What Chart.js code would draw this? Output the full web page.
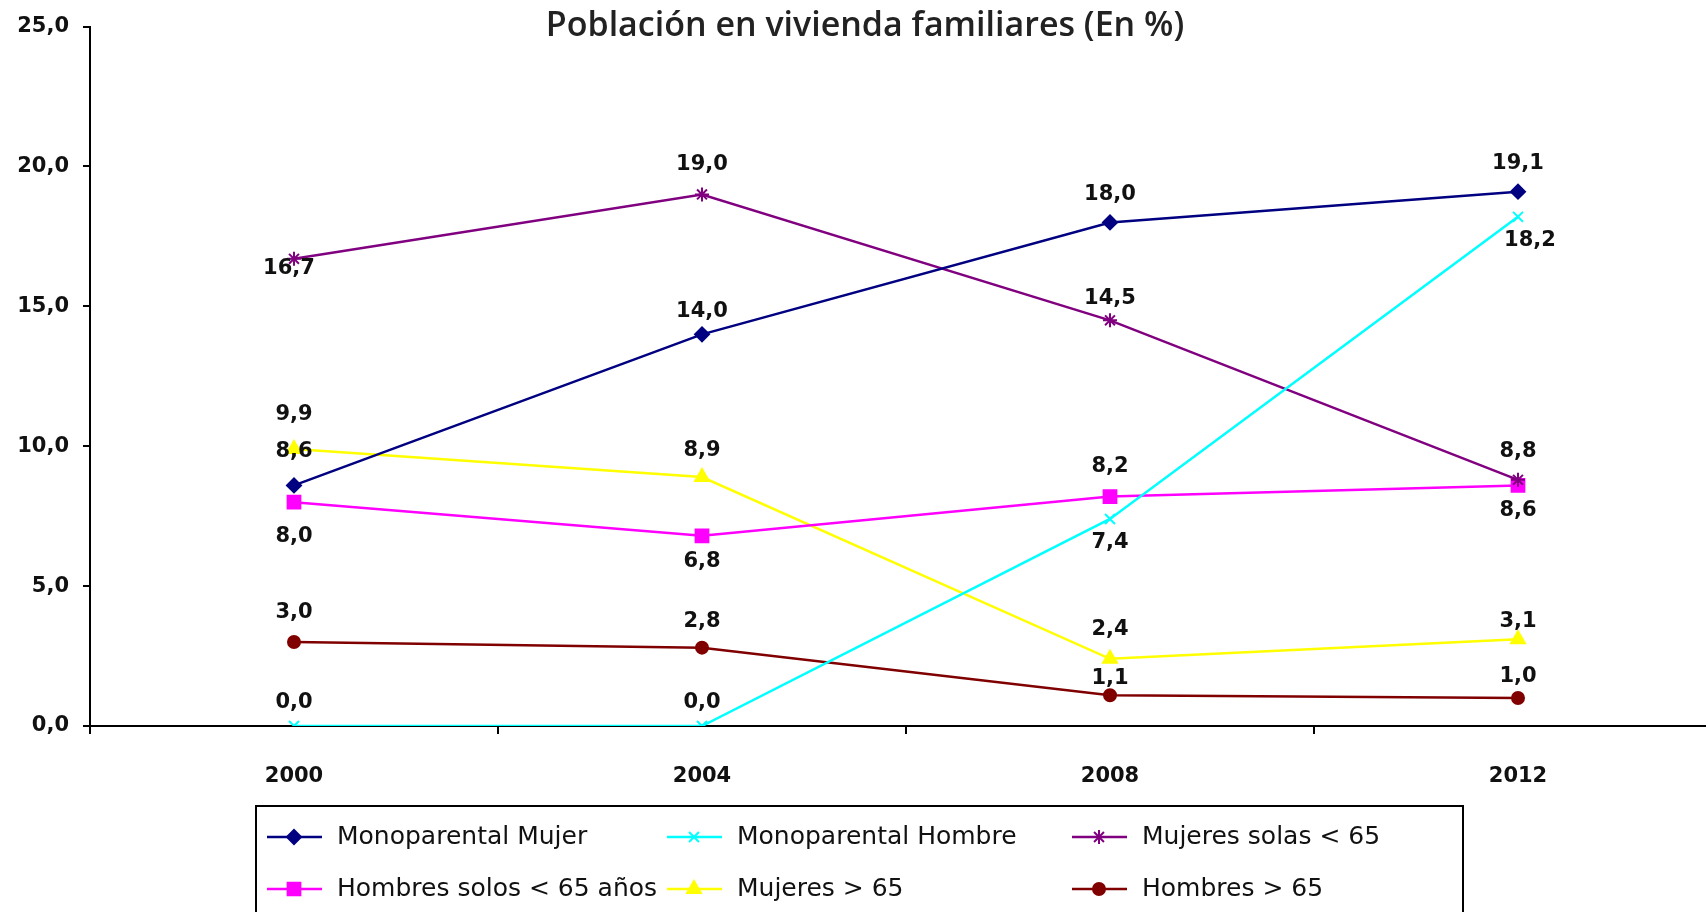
<!DOCTYPE html>
<html>
<head>
<meta charset="utf-8">
<title>Población en vivienda familiares</title>
<script src="https://cdn.jsdelivr.net/npm/chart.js@4"></script>
<style>
  html, body { margin: 0; padding: 0; background: #fff; overflow: hidden; }
  canvas { display: block; }
</style>
</head>
<body>
<!-- the plot runs a little past the right edge in the original, so the canvas is wider than the window -->
<canvas id="chart" width="1733" height="912"></canvas>
<script>
// data
var years = ['2000', '2004', '2008', '2012'];
var monoMujer    = [8.6, 14.0, 18.0, 19.1];
var monoHombre   = [0.0, 0.0, 7.4, 18.2];
var mujeresSolas = [16.7, 19.0, 14.5, 8.8];
var hombresSolos = [8.0, 6.8, 8.2, 8.6];
var mujeres65    = [9.9, 8.9, 2.4, 3.1];
var hombres65    = [3.0, 2.8, 1.1, 1.0];
var seriesNames = ['Monoparental Mujer', 'Monoparental Hombre', 'Mujeres solas < 65',
                   'Hombres solos < 65 años', 'Mujeres > 65', 'Hombres > 65'];
var yTicks = [0, 5, 10, 15, 20, 25];

var chartTitle = 'Población en vivienda familiares (En %)';

// label placement (style only): offset of label centre from point, px
var labelDy = [
  [-34, -23, -28, -28],
  [-23, -23, 24, 24],
  [10, -30, -22, -28],
  [34, 26, -30, 25],
  [-34, -26, -29, -18],
  [-30, -26, -17, -21]
];
var labelDx = [
  [0, 0, 0, 0],
  [0, 0, 0, 12],
  [-5, 0, 0, 0],
  [0, 0, 0, 0],
  [0, 0, 0, 0],
  [0, 0, 0, 0]
];

function fmt(v) {
  return v.toFixed(1).replace('.', ',');
}

function makeSet(i, values, color, style, radius) {
  return {
    label: seriesNames[i],
    data: values,
    borderColor: color,
    backgroundColor: color,
    borderWidth: 2.5,
    tension: 0,
    pointStyle: style,
    pointRadius: radius,
    pointBorderWidth: 2,
    pointBorderColor: color,
    pointBackgroundColor: color
  };
}

var datasets = [
  makeSet(0, monoMujer, '#000080', 'rectRot', 7),
  makeSet(1, monoHombre, '#00FFFF', 'crossRot', 7),
  makeSet(2, mujeresSolas, '#800080', 'star', 7),
  makeSet(3, hombresSolos, '#FF00FF', 'rect', 9),
  makeSet(4, mujeres65, '#FFFF00', 'triangle', 8),
  makeSet(5, hombres65, '#800000', 'circle', 6)
];

function drawMarker(ctx, ds, x, y) {
  var opts = {
    pointStyle: ds.pointStyle,
    radius: ds.pointRadius,
    rotation: 0,
    borderWidth: ds.pointBorderWidth
  };
  ctx.fillStyle = ds.pointBackgroundColor;
  ctx.strokeStyle = ds.pointBorderColor;
  ctx.lineWidth = ds.pointBorderWidth;
  if (Chart.helpers && Chart.helpers.drawPoint) {
    Chart.helpers.drawPoint(ctx, opts, x, y);
  } else {
    ctx.beginPath();
    ctx.arc(x, y, ds.pointRadius, 0, Math.PI * 2);
    ctx.fill();
  }
}

var extras = {
  id: 'extras',
  afterDatasetsDraw: function (chart) {
    var ctx = chart.ctx;
    ctx.save();
    ctx.fillStyle = '#111';
    ctx.font = 'bold 21px "DejaVu Sans"';
    ctx.textAlign = 'center';
    ctx.textBaseline = 'middle';
    chart.data.datasets.forEach(function (ds, i) {
      var meta = chart.getDatasetMeta(i);
      meta.data.forEach(function (pt, j) {
        ctx.fillText(fmt(ds.data[j]), pt.x + labelDx[i][j], pt.y + labelDy[i][j]);
      });
    });
    ctx.restore();
  },
  afterDraw: function (chart) {
    var ctx = chart.ctx;
    ctx.save();
    // title
    ctx.fillStyle = '#222';
    ctx.font = '600 34px "Open Sans"';
    ctx.textAlign = 'center';
    ctx.textBaseline = 'middle';
    ctx.fillText(chartTitle, 865, 26);

    // legend box
    ctx.strokeStyle = '#000';
    ctx.lineWidth = 2;
    ctx.strokeRect(256, 806, 1207, 120);

    var colX = [267, 667, 1072];
    var rowY = [837, 889];
    ctx.font = '25px "DejaVu Sans"';
    ctx.textAlign = 'left';
    chart.data.datasets.forEach(function (ds, i) {
      var x = colX[i % 3], y = rowY[Math.floor(i / 3)];
      ctx.strokeStyle = ds.borderColor;
      ctx.lineWidth = 2.5;
      ctx.beginPath();
      ctx.moveTo(x, y);
      ctx.lineTo(x + 55, y);
      ctx.stroke();
      drawMarker(ctx, ds, x + 27, y);
      ctx.fillStyle = '#111';
      ctx.fillText(ds.label, x + 70, y);
    });
    ctx.restore();
  }
};

new Chart(document.getElementById('chart'), {
  type: 'line',
  data: { labels: years, datasets: datasets },
  plugins: [extras],
  options: {
    responsive: false,
    animation: false,
    layout: { padding: { top: 25, right: 0, bottom: 0, left: 0 } },
    plugins: {
      legend: { display: false },
      title: { display: false },
      tooltip: { enabled: false }
    },
    scales: {
      x: {
        type: 'category',
        offset: true,
        afterFit: function (scale) { scale.height = 186; },
        border: { display: true, color: '#000', width: 2 },
        grid: { offset: true, drawOnChartArea: false, drawTicks: true, tickLength: 8, color: '#000', lineWidth: 2 },
        ticks: {
          color: '#111',
          padding: 30,
          font: { family: 'DejaVu Sans', size: 21, weight: 'bold' }
        }
      },
      y: {
        min: 0,
        max: 25,
        afterBuildTicks: function (scale) {
          scale.ticks = yTicks.map(function (v) { return { value: v }; });
        },
        afterFit: function (scale) { scale.width = 90; },
        border: { display: true, color: '#000', width: 2 },
        grid: { drawOnChartArea: false, drawTicks: true, tickLength: 7, color: '#000', lineWidth: 2 },
        ticks: {
          color: '#111',
          padding: 14,
          font: { family: 'DejaVu Sans', size: 21, weight: 'bold' },
          callback: function (v) { return fmt(v); }
        }
      }
    }
  }
});
</script>
</body>
</html>
